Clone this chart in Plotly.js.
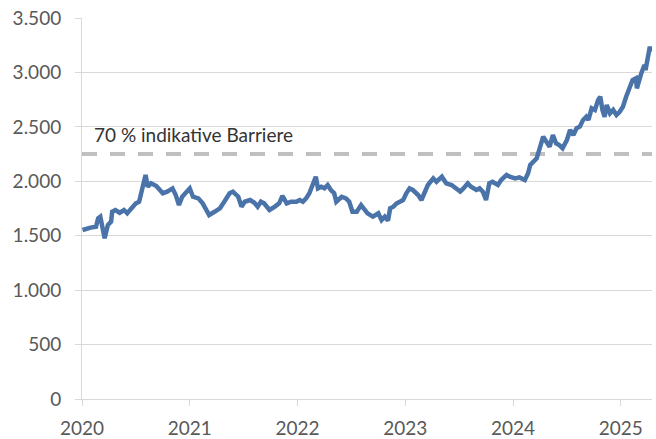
<!DOCTYPE html>
<html>
<head>
<meta charset="utf-8">
<script src="https://cdn.plot.ly/plotly-3.0.1.min.js"></script>
<style>html,body{margin:0;padding:0;background:#fff;}#chart{width:656px;height:439px;}</style>
</head>
<body>
<div id="chart"></div>
<script>
// Time in decimal years
const years = [
2020.005,2020.05,2020.08,2020.13,2020.15,2020.17,2020.19,2020.21,2020.24,2020.27,2020.28,2020.31,2020.35,2020.39,2020.42,2020.45,2020.50,2020.53,2020.56,2020.59,2020.61,2020.64,2020.69,2020.72,2020.75,2020.79,2020.84,2020.87,2020.90,2020.93,2020.98,
2021.00,2021.03,2021.08,2021.12,2021.15,2021.18,2021.23,2021.28,2021.32,2021.37,2021.40,2021.45,2021.48,2021.51,2021.56,2021.60,2021.63,2021.66,2021.69,2021.74,2021.79,2021.83,2021.86,2021.90,2021.94,2021.99,
2022.02,2022.05,2022.08,2022.11,2022.14,2022.17,2022.19,2022.22,2022.25,2022.28,2022.31,2022.34,2022.36,2022.41,2022.45,2022.48,2022.51,2022.55,2022.59,2022.62,2022.65,2022.70,2022.75,2022.78,2022.81,2022.84,2022.86,2022.89,2022.92,2022.95,2022.98,
2023.01,2023.04,2023.07,2023.12,2023.15,2023.18,2023.21,2023.26,2023.29,2023.34,2023.38,2023.43,2023.47,2023.51,2023.54,2023.58,2023.61,2023.66,2023.69,2023.72,2023.75,2023.78,2023.81,2023.86,2023.89,2023.94,2023.97,
2024.02,2024.06,2024.11,2024.14,2024.16,2024.22,2024.25,2024.28,2024.31,2024.34,2024.37,2024.40,2024.43,2024.46,2024.50,2024.53,2024.56,2024.59,2024.62,2024.65,2024.68,2024.70,2024.73,2024.76,2024.79,2024.81,2024.83,2024.85,2024.87,2024.90,2024.93,2024.96,2024.99,
2025.02,2025.05,2025.08,2025.11,2025.14,2025.15,2025.19,2025.22,2025.23,2025.25,2025.27,2025.28
];
// Price values
const prices = [
1552,1559,1574,1583,1660,1675,1583,1476,1598,1629,1720,1736,1711,1736,1706,1742,1797,1812,1935,2058,1950,1981,1957,1920,1890,1905,1935,1874,1782,1858,1905,
1935,1858,1843,1797,1736,1690,1720,1752,1812,1890,1905,1858,1767,1812,1828,1803,1767,1812,1797,1736,1767,1797,1865,1797,1812,1812,
1828,1812,1843,1890,1966,2042,1935,1950,1935,1966,1920,1890,1812,1858,1843,1812,1720,1720,1782,1736,1706,1675,1706,1644,1675,1638,1752,1767,1797,1812,1828,
1890,1935,1920,1874,1828,1905,1966,2027,1996,2042,1981,1966,1935,1905,1935,1981,1950,1920,1935,1905,1828,1981,1996,1966,2012,2058,2042,
2027,2036,2012,2073,2150,2211,2318,2410,2364,2318,2425,2349,2333,2303,2379,2471,2425,2487,2502,2563,2593,2563,2670,2655,2747,2777,2655,2593,2701,2624,2655,2609,2639,
2685,2777,2869,2930,2946,2854,2991,3068,3022,3114,3236,3190
];
const barrierLevel = 2250;
const barrierLabel = "70 % indikative Barriere";
const xTickYears = [2020, 2021, 2022, 2023, 2024, 2025];
const xTickLabels = ["2020", "2021", "2022", "2023", "2024", "2025"];
const yTicks = [0, 500, 1000, 1500, 2000, 2500, 3000, 3500];

const xStart = 2020, xEnd = 2025.29;
const fontFam = "Lato, 'Open Sans', sans-serif";

const traces = [
  {
    x: [xStart, xEnd], y: [barrierLevel, barrierLevel],
    mode: "lines", type: "scatter",
    line: {color: "#c0c0c0", width: 4, dash: "15px,13px"},
    hoverinfo: "skip", showlegend: false
  },
  {
    x: years, y: prices,
    mode: "lines", type: "scatter",
    line: {color: "#4a73a9", width: 4.5, shape: "linear"},
    showlegend: false
  }
];

const layout = {
  width: 656, height: 439,
  margin: {l: 82, r: 4, t: 18, b: 40, pad: 0},
  paper_bgcolor: "#ffffff", plot_bgcolor: "#ffffff",
  separators: ",.",
  font: {family: fontFam, size: 19, color: "#595959"},
  showlegend: false,
  xaxis: {
    range: [xStart, xEnd],
    tickvals: xTickYears, ticktext: xTickLabels,
    showgrid: false, zeroline: false,
    showline: true, linecolor: "#d9d9d9", linewidth: 1,
    ticks: "outside", ticklen: 6, tickcolor: "#d9d9d9", tickwidth: 1,
    ticklabelstandoff: 6,
    tickfont: {family: fontFam, size: 19, color: "#595959"}
  },
  yaxis: {
    range: [0, 3500],
    tickvals: yTicks, tickformat: ",d",
    showgrid: true, gridcolor: "#d9d9d9", gridwidth: 1,
    zeroline: false,
    showline: true, linecolor: "#d9d9d9", linewidth: 1,
    ticks: "outside", ticklen: 6, tickcolor: "#d9d9d9", tickwidth: 1,
    ticklabelstandoff: 10,
    tickfont: {family: fontFam, size: 19, color: "#595959"}
  },
  annotations: [{
    x: xStart + 0.09, y: barrierLevel, xref: "x", yref: "y",
    xanchor: "left", yanchor: "bottom", yshift: 6,
    text: barrierLabel, showarrow: false,
    font: {family: fontFam, size: 19, color: "#333333"}
  }]
};

Plotly.newPlot("chart", traces, layout, {displayModeBar: false, staticPlot: true});
</script>
</body>
</html>
